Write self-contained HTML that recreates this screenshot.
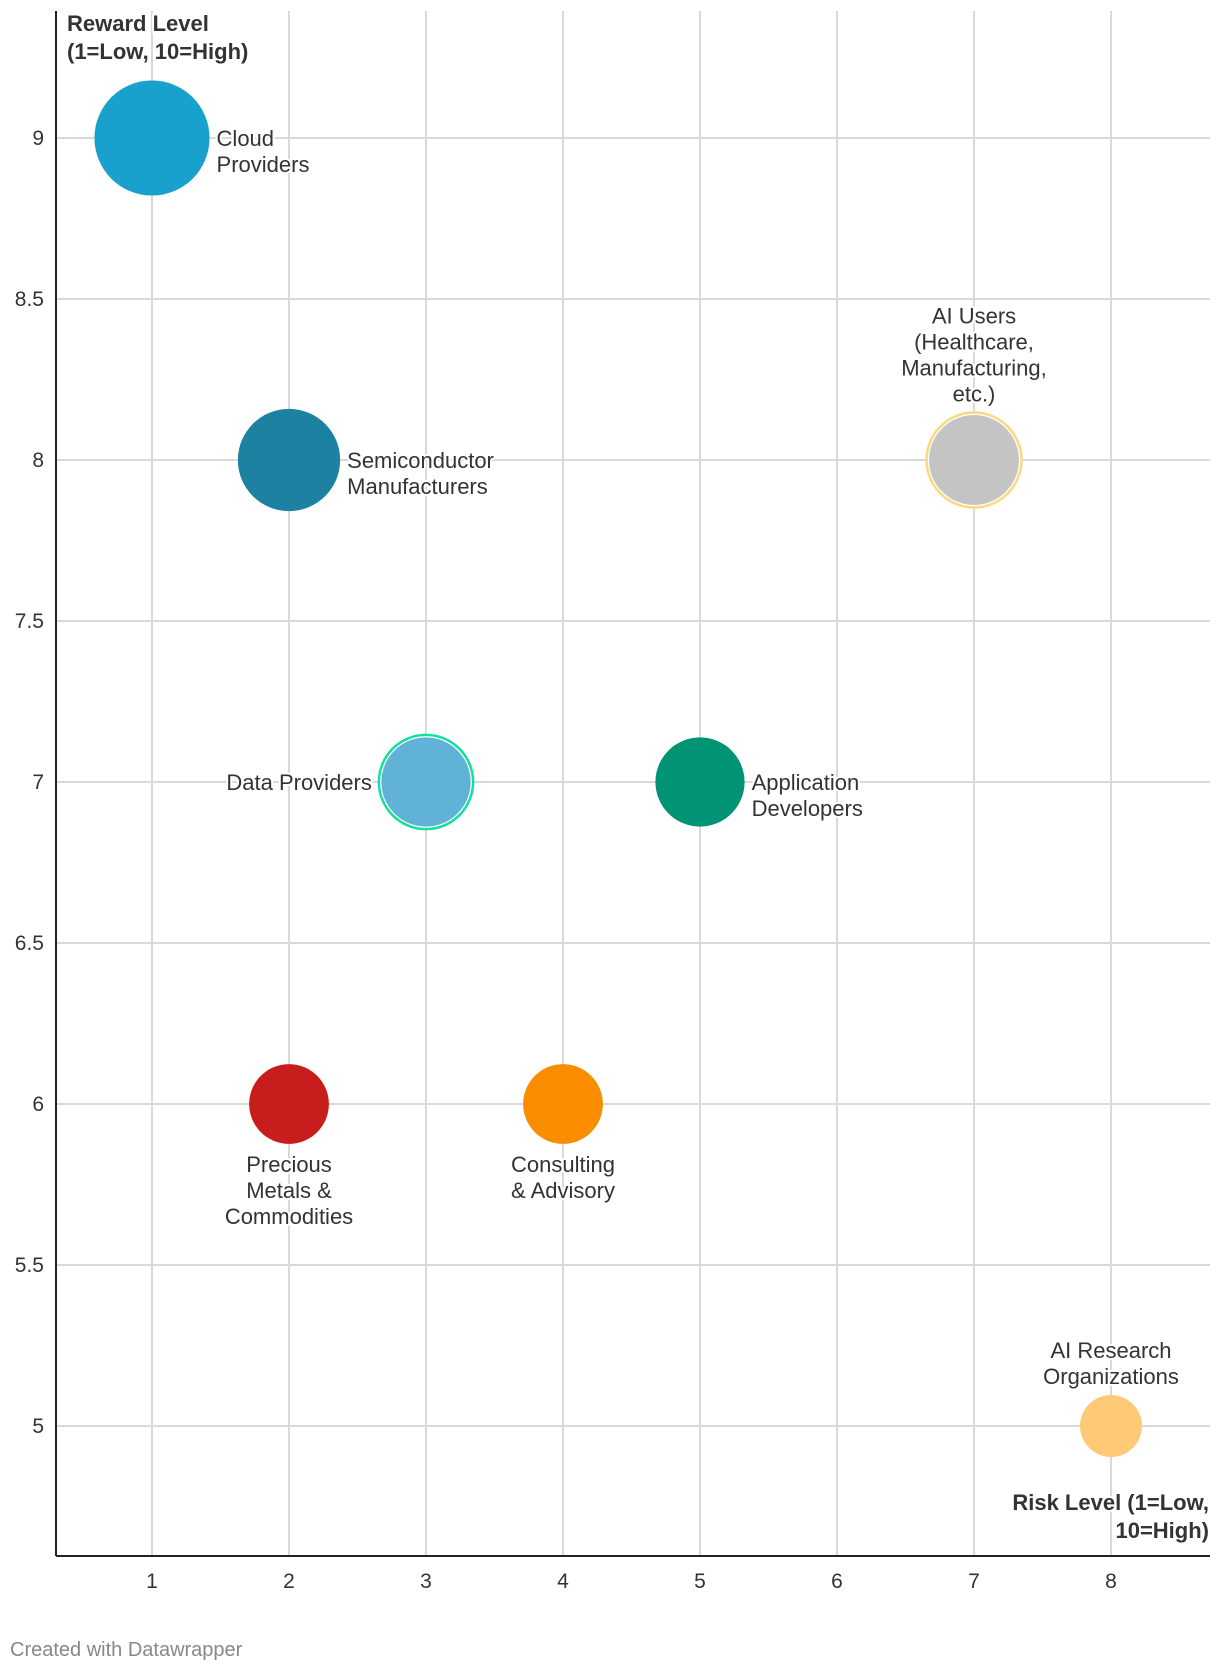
<!DOCTYPE html>
<html><head><meta charset="utf-8"><style>
html,body{margin:0;padding:0;background:#fff;}
svg{display:block;font-family:"Liberation Sans",Arial,sans-serif;}
.lbl{font-size:22px;fill:#333;paint-order:stroke;stroke:#fff;stroke-width:4px;stroke-linejoin:round;}
.tick{font-size:21px;fill:#333;}
.ttl{font-size:22px;font-weight:bold;fill:#333;paint-order:stroke;stroke:#fff;stroke-width:4px;}
</style></head><body>
<svg id="chart" width="1220" height="1672" viewBox="0 0 1220 1672">
<g id="grid"></g>
<g id="ticks"></g>
<g id="bubbles"></g>
<g id="labels"></g>
<line x1="56" y1="11" x2="56" y2="1556" stroke="#222" stroke-width="2"/>
<line x1="56" y1="1556" x2="1210" y2="1556" stroke="#222" stroke-width="2"/>
<text class="ttl" x="67" y="31"><tspan x="67">Reward Level</tspan><tspan x="67" dy="28">(1=Low, 10=High)</tspan></text>
<text class="ttl" x="1209" y="1510" text-anchor="end"><tspan x="1209">Risk Level (1=Low,</tspan><tspan x="1209" dy="28">10=High)</tspan></text>
<text x="10" y="1656" font-size="20" fill="#888">Created with Datawrapper</text>
</svg>
<script>
const names = ["Cloud Providers","Semiconductor Manufacturers","Data Providers","Application Developers","AI Users (Healthcare, Manufacturing, etc.)","Precious Metals & Commodities","Consulting & Advisory","AI Research Organizations"];
const risk = [1,2,3,5,7,2,4,8];
const reward = [9,8,7,7,8,6,6,5];
const sizes = [10,7.9,6.7,6,6.8,4.8,4.8,2.9];
const xTicks = [1,2,3,4,5,6,7,8];
const yTicks = [5,5.5,6,6.5,7,7.5,8,8.5,9];
const colors = ["#18a1cd","#1d81a2","#60b2d6","#009374","#c4c4c4","#c71e1d","#fa8c00","#ffca76"];
const strokes = [null,null,"#15dfa0",null,"#fcd97f",null,null,null];
const labelLines = [["Cloud","Providers"],["Semiconductor","Manufacturers"],["Data Providers"],["Application","Developers"],["AI Users","(Healthcare,","Manufacturing,","etc.)"],["Precious","Metals &","Commodities"],["Consulting","& Advisory"],["AI Research","Organizations"]];
const labelPos = ["right","right","left","right","top","bottom","bottom","top"];

const NS="http://www.w3.org/2000/svg";
const X = v => 152 + (v-1)*137;
const Y = v => 138 + (9-v)*322;
const R = s => 18.2*Math.sqrt(s);
function mk(tag, attrs, parent){const e=document.createElementNS(NS,tag);for(const k in attrs)e.setAttribute(k,attrs[k]);parent.appendChild(e);return e;}
const grid=document.getElementById('grid'),ticks=document.getElementById('ticks'),bub=document.getElementById('bubbles'),lab=document.getElementById('labels');
xTicks.forEach(t=>{
  const l=mk('line',{x1:X(t),x2:X(t),y1:11,y2:1556,stroke:'#d9d9d9','stroke-width':2},grid);
  
  
  const tx=mk('text',{x:X(t),y:1588,'text-anchor':'middle',class:'tick'},ticks);tx.textContent=t;
  
  
});
yTicks.forEach(t=>{
  const l=mk('line',{x1:56,x2:1210,y1:Y(t),y2:Y(t),stroke:'#d9d9d9','stroke-width':2},grid);
  
  
  const tx=mk('text',{x:44,y:Y(t)+7,'text-anchor':'end',class:'tick'},ticks);tx.textContent=t;
  
  
});
names.forEach((n,i)=>{
  const cx=X(risk[i]),cy=Y(reward[i]),r=R(sizes[i]);
  if(strokes[i]){
    const o=mk('circle',{cx:cx,cy:cy,r:r,fill:'#fff',stroke:strokes[i],'stroke-width':2.5},bub);
    
    
    const c=mk('circle',{cx:cx,cy:cy,r:r-2.5,fill:colors[i]},bub);
    
    
  } else {
    const c=mk('circle',{cx:cx,cy:cy,r:r,fill:colors[i]},bub);
    
    
  }
  const lines=labelLines[i],p=labelPos[i],lh=26;
  let x,y0,anchor;
  if(p==='right'){x=cx+r+7;anchor='start';y0=cy+8;}
  else if(p==='left'){x=cx-r-7;anchor='end';y0=cy+8;}
  else if(p==='top'){x=cx;anchor='middle';y0=cy-r-11-(lines.length-1)*lh;}
  else {x=cx;anchor='middle';y0=cy+r+28;}
  const t=mk('text',{x:x,y:y0,'text-anchor':anchor,class:'lbl'},lab);
  
  
  lines.forEach((s,k)=>{const ts=mk('tspan',{x:x,dy:k?lh:0},t);ts.textContent=s;});
});
</script>
</body></html>
